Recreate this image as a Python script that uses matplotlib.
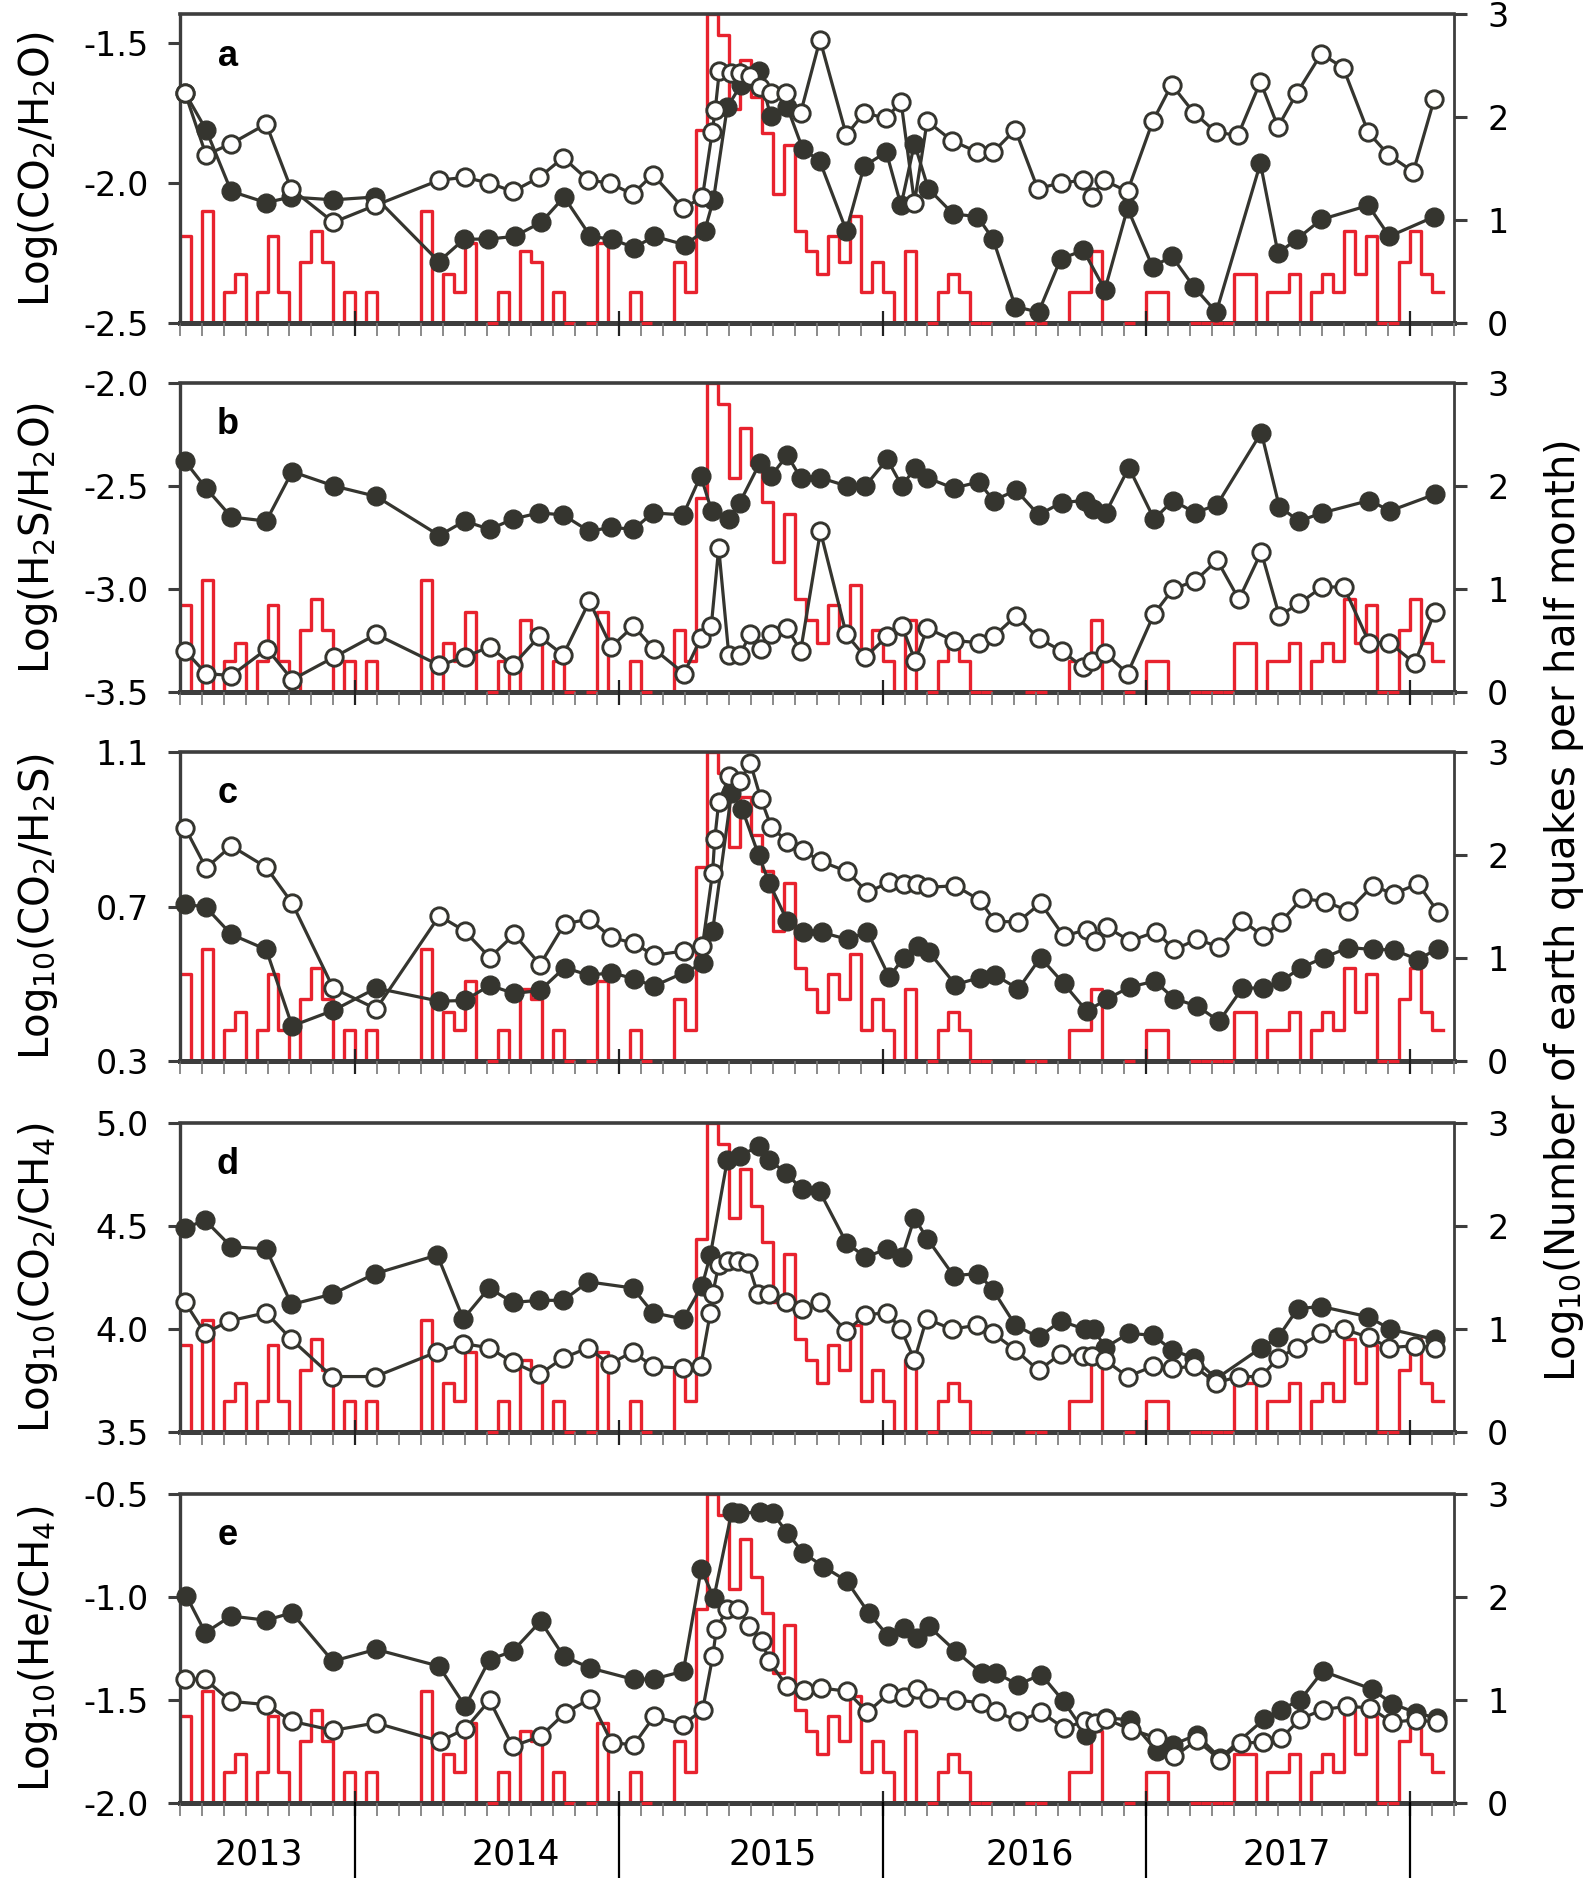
import numpy as np
import matplotlib
matplotlib.use('Agg')
import matplotlib.pyplot as plt
from matplotlib.ticker import FixedLocator, MultipleLocator

nan = np.nan

# Time is in months counted from 1 Jan 2013 (12 = Jan 2014, 24 = Jan 2015 ...)
# Earthquake counts: log10 of number per half month, bins start 1 May 2013
quake_start = 4.0
quake_log = [0.85, nan, 1.09, nan, 0.30, 0.48, nan, 0.30, 0.85, 0.30,
             nan, 0.60, 0.90, 0.60, nan, 0.30, nan, 0.30, nan, nan,
             nan, nan, 1.09, nan, 0.48, 0.30, 0.78, nan, 0.0, 0.30,
             nan, 0.70, 0.60, nan, 0.30, 0.0, nan, 0.0, 0.78, nan,
             nan, 0.30, 0.0, nan, nan, 0.60, 0.30, 1.88, 3.0, 2.80,
             2.08, 2.56, 2.20, 1.85, 1.26, 1.73, 0.90, 0.70, 0.48, 0.85,
             0.60, 1.04, 0.30, 0.60, 0.30, nan, 0.70, nan, 0.0, 0.30,
             0.48, 0.30, 0.0, 0.0, nan, nan, nan, 0.0, 0.0, nan,
             nan, 0.30, 0.30, 0.70, nan, nan, 0.0, nan, 0.30, 0.30,
             nan, nan, 0.0, 0.0, 0.0, 0.0, 0.48, 0.48, nan, 0.30,
             0.30, 0.48, nan, 0.30, 0.48, 0.30, 0.90, 0.48, 0.85, 0.0,
             0.0, 0.60, 0.90, 0.48, 0.30]

# panel a: Log(CO2/H2O)
a_fill_t = [4.25, 5.2, 6.35, 7.94, 9.06, 10.99, 12.9, 15.8, 16.95, 18.06, 19.25, 20.46, 21.5,
            22.7, 23.66, 24.7, 25.6, 27.0, 27.9, 28.3, 28.93, 29.56, 30.36, 30.9, 31.66, 32.37,
            33.13, 34.35, 35.16, 36.17, 36.84, 37.45, 38.08, 39.21, 40.32, 41.03, 42.04, 43.1,
            44.11, 45.14, 46.12, 47.15, 48.3, 49.16, 50.17, 51.19, 53.2, 54.0, 54.86, 55.97,
            58.11, 59.07, 61.12]
a_fill_v = [-1.68, -1.81, -2.03, -2.07, -2.05, -2.06, -2.05, -2.28, -2.20, -2.20, -2.19, -2.14,
            -2.05, -2.19, -2.20, -2.23, -2.19, -2.22, -2.17, -2.06, -1.73, -1.65, -1.60, -1.76,
            -1.73, -1.88, -1.92, -2.17, -1.94, -1.89, -2.08, -1.86, -2.02, -2.11, -2.12, -2.20,
            -2.44, -2.46, -2.27, -2.24, -2.38, -2.09, -2.30, -2.26, -2.37, -2.46, -1.93, -2.25,
            -2.20, -2.13, -2.08, -2.19, -2.12]
a_open_t = [4.25, 5.2, 6.35, 7.94, 9.07, 11.0, 12.9, 15.82, 16.97, 18.08, 19.17, 20.37, 21.46,
            22.6, 23.57, 24.62, 25.54, 26.93, 27.8, 28.24, 28.38, 28.57, 29.1, 29.5, 29.97, 30.4,
            30.9, 31.6, 32.27, 33.15, 34.35, 35.16, 36.17, 36.84, 37.45, 38.03, 39.17, 40.32,
            41.03, 42.04, 43.06, 44.11, 45.14, 45.53, 46.06, 47.15, 48.3, 49.16, 50.17, 51.19,
            52.18, 53.2, 54.0, 54.86, 55.97, 56.97, 58.11, 59.03, 60.16, 61.12]
a_open_v = [-1.68, -1.90, -1.86, -1.79, -2.02, -2.14, -2.08, -1.99, -1.98, -2.00, -2.03, -1.98,
            -1.91, -1.99, -2.00, -2.04, -1.97, -2.09, -2.05, -1.82, -1.74, -1.60, -1.61, -1.61,
            -1.62, -1.66, -1.68, -1.68, -1.75, -1.49, -1.83, -1.75, -1.77, -1.71, -2.07, -1.78,
            -1.85, -1.89, -1.89, -1.81, -2.02, -2.00, -1.99, -2.05, -1.99, -2.03, -1.78, -1.65,
            -1.75, -1.82, -1.83, -1.64, -1.80, -1.68, -1.54, -1.59, -1.82, -1.90, -1.96, -1.70]

# panel b: Log(H2S/H2O)
b_fill_t = [4.25, 5.2, 6.35, 7.94, 9.12, 11.04, 12.95, 15.82, 16.97, 18.12, 19.17, 20.37, 21.46,
            22.65, 23.63, 24.66, 25.54, 26.92, 27.72, 28.22, 29.02, 29.5, 30.4, 30.93, 31.66,
            32.27, 33.17, 34.39, 35.21, 36.21, 36.88, 37.49, 38.03, 39.23, 40.38, 41.05, 42.08,
            43.1, 44.15, 45.2, 45.58, 46.16, 47.21, 48.36, 49.22, 50.23, 51.23, 53.24, 54.06,
            54.96, 56.01, 58.15, 59.11, 61.14]
b_fill_v = [-2.38, -2.51, -2.65, -2.67, -2.43, -2.50, -2.55, -2.74, -2.67, -2.71, -2.66, -2.63,
            -2.64, -2.72, -2.70, -2.71, -2.63, -2.64, -2.45, -2.62, -2.66, -2.58, -2.39, -2.45,
            -2.35, -2.46, -2.46, -2.50, -2.50, -2.37, -2.50, -2.41, -2.46, -2.51, -2.48, -2.57,
            -2.52, -2.64, -2.58, -2.57, -2.61, -2.63, -2.41, -2.66, -2.57, -2.63, -2.59, -2.24,
            -2.60, -2.67, -2.63, -2.57, -2.62, -2.54]
b_open_t = [4.25, 5.2, 6.35, 7.98, 9.12, 11.04, 12.95, 15.82, 16.97, 18.12, 19.17, 20.37, 21.46,
            22.65, 23.65, 24.66, 25.58, 26.96, 27.72, 28.2, 28.54, 29.0, 29.5, 29.97, 30.45,
            30.9, 31.66, 32.27, 33.17, 34.35, 35.21, 36.21, 36.88, 37.49, 38.03, 39.23, 40.38,
            41.05, 42.08, 43.1, 44.15, 45.14, 45.53, 46.12, 47.15, 48.36, 49.22, 50.23, 51.23,
            52.22, 53.24, 54.06, 54.96, 56.01, 57.0, 58.15, 59.07, 60.22, 61.14]
b_open_v = [-3.30, -3.41, -3.42, -3.29, -3.44, -3.33, -3.22, -3.37, -3.33, -3.28, -3.37, -3.23,
            -3.32, -3.06, -3.28, -3.18, -3.29, -3.41, -3.24, -3.18, -2.80, -3.32, -3.32, -3.22,
            -3.29, -3.22, -3.19, -3.30, -2.72, -3.22, -3.33, -3.23, -3.18, -3.35, -3.19, -3.25,
            -3.26, -3.23, -3.13, -3.24, -3.30, -3.38, -3.35, -3.31, -3.41, -3.12, -3.00, -2.96,
            -2.86, -3.05, -2.82, -3.13, -3.07, -2.99, -2.99, -3.26, -3.26, -3.36, -3.11]

# panel c: Log10(CO2/H2S)
c_fill_t = [4.25, 5.2, 6.35, 7.94, 9.12, 10.99, 12.95, 15.82, 16.97, 18.12, 19.23, 20.41, 21.52,
            22.65, 23.65, 24.7, 25.58, 26.96, 27.84, 28.26, 29.12, 29.6, 30.36, 30.84, 31.66,
            32.37, 33.23, 34.43, 35.31, 36.3, 36.97, 37.6, 38.12, 39.31, 40.42, 41.13, 42.18,
            43.19, 44.24, 45.3, 46.22, 47.27, 48.4, 49.28, 50.31, 51.32, 52.38, 53.33, 54.14,
            55.05, 56.1, 57.2, 58.31, 59.26, 60.37, 61.27]
c_fill_v = [0.707, 0.698, 0.628, 0.589, 0.391, 0.431, 0.489, 0.455, 0.457, 0.496, 0.475, 0.483,
            0.542, 0.522, 0.529, 0.513, 0.494, 0.529, 0.553, 0.637, 0.993, 0.954, 0.833, 0.761,
            0.663, 0.635, 0.633, 0.615, 0.635, 0.518, 0.568, 0.598, 0.582, 0.498, 0.516, 0.522,
            0.487, 0.568, 0.501, 0.429, 0.461, 0.492, 0.507, 0.461, 0.443, 0.403, 0.489, 0.489,
            0.507, 0.542, 0.568, 0.594, 0.589, 0.588, 0.563, 0.591]
c_open_t = [4.25, 5.2, 6.35, 7.94, 9.12, 10.99, 12.95, 15.82, 16.97, 18.12, 19.23, 20.41, 21.52,
            22.65, 23.65, 24.7, 25.58, 26.96, 27.8, 28.26, 28.36, 28.54, 29.02, 29.5, 29.98,
            30.46, 30.93, 31.66, 32.37, 33.19, 34.39, 35.31, 36.3, 36.97, 37.55, 38.08, 39.31,
            40.42, 41.13, 42.18, 43.19, 44.24, 45.3, 45.68, 46.22, 47.27, 48.45, 49.28, 50.31,
            51.32, 52.38, 53.33, 54.14, 55.09, 56.16, 57.2, 58.31, 59.26, 60.37, 61.27]
c_open_v = [0.904, 0.800, 0.857, 0.802, 0.709, 0.489, 0.435, 0.676, 0.637, 0.568, 0.628, 0.550,
            0.655, 0.668, 0.620, 0.605, 0.574, 0.585, 0.598, 0.788, 0.876, 0.970, 1.037, 1.024,
            1.072, 0.979, 0.907, 0.868, 0.846, 0.817, 0.791, 0.737, 0.763, 0.759, 0.759, 0.750,
            0.754, 0.717, 0.661, 0.661, 0.709, 0.624, 0.640, 0.611, 0.646, 0.611, 0.635, 0.589,
            0.615, 0.596, 0.663, 0.624, 0.661, 0.721, 0.713, 0.689, 0.754, 0.733, 0.759, 0.687]

# panel d: Log10(CO2/CH4)
d_fill_t = [4.25, 5.15, 6.35, 7.94, 9.09, 10.94, 12.91, 15.73, 16.91, 18.08, 19.17, 20.37, 21.46,
            22.6, 24.62, 25.54, 26.92, 27.78, 28.16, 28.93, 29.5, 30.36, 30.84, 31.6, 32.31,
            33.13, 34.35, 35.21, 36.21, 36.88, 37.45, 38.03, 39.23, 40.36, 41.03, 42.04, 43.1,
            44.11, 45.2, 45.64, 46.12, 47.21, 48.32, 49.16, 50.17, 51.19, 53.24, 54.0, 54.9,
            55.97, 58.11, 59.11, 61.14]
d_fill_v = [4.49, 4.53, 4.40, 4.39, 4.12, 4.17, 4.27, 4.36, 4.05, 4.20, 4.13, 4.14, 4.14, 4.23,
            4.20, 4.08, 4.05, 4.21, 4.36, 4.82, 4.84, 4.89, 4.82, 4.76, 4.68, 4.67, 4.42, 4.35,
            4.39, 4.35, 4.54, 4.44, 4.26, 4.27, 4.19, 4.02, 3.96, 4.04, 4.00, 4.00, 3.91, 3.98,
            3.97, 3.90, 3.86, 3.76, 3.91, 3.96, 4.10, 4.11, 4.06, 4.00, 3.95]
d_open_t = [4.25, 5.15, 6.26, 7.94, 9.09, 10.94, 12.91, 15.73, 16.91, 18.08, 19.17, 20.37, 21.46,
            22.6, 23.57, 24.62, 25.54, 26.92, 27.72, 28.16, 28.26, 28.54, 28.98, 29.44, 29.88,
            30.32, 30.84, 31.6, 32.31, 33.13, 34.35, 35.21, 36.21, 36.84, 37.45, 38.0, 39.17,
            40.32, 41.03, 42.04, 43.1, 44.11, 45.14, 45.53, 46.12, 47.15, 48.32, 49.16, 50.17,
            51.19, 52.22, 53.24, 54.0, 54.86, 55.97, 57.0, 58.15, 59.07, 60.22, 61.14]
d_open_v = [4.13, 3.98, 4.04, 4.08, 3.95, 3.77, 3.77, 3.89, 3.93, 3.91, 3.84, 3.78, 3.86, 3.91,
            3.83, 3.89, 3.82, 3.81, 3.82, 4.08, 4.17, 4.31, 4.33, 4.33, 4.32, 4.17, 4.17, 4.13,
            4.10, 4.13, 3.99, 4.07, 4.08, 4.00, 3.85, 4.05, 4.00, 4.02, 3.98, 3.90, 3.80, 3.88,
            3.87, 3.87, 3.85, 3.77, 3.82, 3.81, 3.82, 3.74, 3.77, 3.77, 3.86, 3.91, 3.98, 4.00,
            3.96, 3.91, 3.92, 3.91]

# panel e: Log10(He/CH4)
e_fill_t = [4.31, 5.17, 6.33, 7.95, 9.11, 10.97, 12.94, 15.8, 17.0, 18.11, 19.16, 20.43, 21.48,
            22.68, 24.68, 25.6, 26.93, 27.74, 28.32, 29.13, 29.48, 30.41, 30.99, 31.66, 32.37,
            33.31, 34.37, 35.36, 36.26, 36.97, 37.56, 38.1, 39.33, 40.51, 41.17, 42.16, 43.22,
            44.24, 45.28, 46.17, 47.26, 48.49, 49.24, 50.3, 51.36, 53.37, 54.15, 55.02, 56.04,
            58.26, 59.2, 60.29, 61.24]
e_fill_v = [-0.995, -1.173, -1.092, -1.112, -1.076, -1.311, -1.254, -1.335, -1.53, -1.303,
            -1.263, -1.117, -1.287, -1.344, -1.40, -1.397, -1.36, -0.865, -1.003, -0.587, -0.593,
            -0.587, -0.593, -0.687, -0.784, -0.852, -0.922, -1.076, -1.19, -1.149, -1.198,
            -1.141, -1.263, -1.368, -1.368, -1.425, -1.376, -1.506, -1.668, -1.587, -1.595,
            -1.749, -1.716, -1.668, -1.781, -1.592, -1.546, -1.498, -1.36, -1.446, -1.517,
            -1.562, -1.587]
e_open_t = [4.25, 5.17, 6.33, 7.95, 9.11, 10.97, 12.94, 15.84, 17.0, 18.11, 19.16, 20.43, 21.55,
            22.68, 23.68, 24.68, 25.6, 26.93, 27.81, 28.27, 28.43, 28.9, 29.43, 29.94, 30.52,
            30.82, 31.66, 32.4, 33.2, 34.37, 35.31, 36.31, 36.97, 37.56, 38.1, 39.33, 40.46,
            41.17, 42.16, 43.22, 44.24, 45.23, 45.66, 46.17, 47.3, 48.49, 49.28, 50.3, 51.36,
            52.3, 53.3, 54.15, 55.02, 56.04, 57.15, 58.2, 59.2, 60.29, 61.24]
e_open_v = [-1.397, -1.40, -1.506, -1.522, -1.603, -1.647, -1.611, -1.70, -1.64, -1.501, -1.724,
            -1.676, -1.562, -1.494, -1.708, -1.716, -1.579, -1.619, -1.546, -1.287, -1.157,
            -1.06, -1.057, -1.141, -1.214, -1.311, -1.433, -1.452, -1.441, -1.457, -1.559,
            -1.465, -1.485, -1.446, -1.489, -1.498, -1.514, -1.554, -1.603, -1.559, -1.635,
            -1.603, -1.611, -1.592, -1.643, -1.684, -1.773, -1.695, -1.789, -1.708, -1.705,
            -1.684, -1.592, -1.546, -1.53, -1.538, -1.608, -1.595, -1.608]

year_labels = ['2013', '2014', '2015', '2016', '2017']
year_label_pos = [7.6, 19.3, 31.0, 42.7, 54.4]
year_starts = [12, 24, 36, 48, 60]

DARK = '#35352f'
RED = '#e8222e'
SPINE = '#3d3d3d'


def draw_panel(ax, letter, ylabel, ylim, yticks, fill_t, fill_v, open_t, open_v):
    ax2 = ax.twinx()
    ax.set_zorder(ax2.get_zorder() + 1)
    ax.patch.set_visible(False)

    # earthquake histogram (right axis)
    q = np.array(quake_log, dtype=float)
    edges = quake_start + np.arange(len(q) + 1) / 2.0
    q_ext = np.append(q, q[-1])
    ax2.step(edges, np.nan_to_num(q_ext), where='post', color=RED, lw=2.4, zorder=1)
    for k in np.where(q == 0)[0]:
        ax2.plot([edges[k], edges[k + 1]], [0, 0], color=RED, lw=2.4, zorder=3,
                 clip_on=False, solid_capstyle='butt')
    ax2.set_ylim(0, 3)
    ax2.yaxis.set_major_locator(FixedLocator([0, 1, 2, 3]))
    ax2.set_yticklabels(['0', '1', '2', '3'])
    ax2.tick_params(axis='y', direction='out', length=9, width=2.2, color=SPINE,
                    labelsize=24, pad=15)

    # gas ratio series (left axis)
    ax.plot(fill_t, fill_v, '-o', color=DARK, ms=13.5, lw=2.3, clip_on=False, zorder=3)
    ax.plot(open_t, open_v, '-o', color=DARK, mfc='white', mec=DARK, mew=2.1, ms=12.5,
            lw=2.3, clip_on=False, zorder=4)
    ax.set_xlim(4, 62)
    ax.set_ylim(*ylim)
    ax.yaxis.set_major_locator(FixedLocator(yticks))
    ax.set_yticklabels([f'{v:.1f}' for v in yticks])
    ax.tick_params(axis='y', direction='out', length=9, width=2.2, color=SPINE,
                   labelsize=24, pad=13)

    ax.xaxis.set_major_locator(FixedLocator(year_starts))
    ax.xaxis.set_minor_locator(MultipleLocator(1))
    ax.tick_params(axis='x', which='major', direction='inout', length=18, width=1.6,
                   color='#222222', labelbottom=False)
    ax.tick_params(axis='x', which='minor', direction='out', length=9.5, width=1.2,
                   color='#777777')

    for s in ax.spines.values():
        s.set_visible(False)
    widths = {'bottom': 3.6, 'top': 2.6, 'left': 2.4, 'right': 2.0}
    for name, s in ax2.spines.items():
        s.set_color(SPINE)
        s.set_linewidth(widths[name])

    ax.set_ylabel(ylabel, fontsize=29)
    ax.yaxis.set_label_coords(-0.094, 0.5)
    ax.text(0.0376, 0.865, letter, transform=ax.transAxes, fontsize=26,
            fontweight='bold', family='Liberation Sans', ha='center', va='center')
    return ax2


def main():
    plt.rcParams['font.family'] = ['DejaVu Sans']
    fig = plt.figure(figsize=(15.94, 18.78), dpi=100)

    panels = [
        ('a', 'Log(CO$_2$/H$_2$O)', (-2.5, -1.40), [-2.5, -2.0, -1.5],
         a_fill_t, a_fill_v, a_open_t, a_open_v),
        ('b', 'Log(H$_2$S/H$_2$O)', (-3.5, -2.0), [-3.5, -3.0, -2.5, -2.0],
         b_fill_t, b_fill_v, b_open_t, b_open_v),
        ('c', 'Log$_{10}$(CO$_2$/H$_2$S)', (0.3, 1.1), [0.3, 0.7, 1.1],
         c_fill_t, c_fill_v, c_open_t, c_open_v),
        ('d', 'Log$_{10}$(CO$_2$/CH$_4$)', (3.5, 5.0), [3.5, 4.0, 4.5, 5.0],
         d_fill_t, d_fill_v, d_open_t, d_open_v),
        ('e', 'Log$_{10}$(He/CH$_4$)', (-2.0, -0.5), [-2.0, -1.5, -1.0, -0.5],
         e_fill_t, e_fill_v, e_open_t, e_open_v),
    ]
    bottoms = [0.8278, 0.6315, 0.4350, 0.2374, 0.0399]

    ax = None
    for bottom, p in zip(bottoms, panels):
        ax = fig.add_axes([0.1127, bottom, 0.7993, 0.1645])
        draw_panel(ax, *p)

    # year labels and dividers under the last panel
    xt = ax.get_xaxis_transform()
    for pos, lab in zip(year_label_pos, year_labels):
        ax.text(pos, -0.165, lab, transform=xt, fontsize=25, ha='center', va='center')
    for yr in year_starts:
        ax.plot([yr, yr], [0, -0.245], transform=xt, color='black', lw=1.6, clip_on=False)

    fig.text(0.981, 0.515, 'Log$_{10}$(Number of earth quakes per half month)',
             rotation=90, fontsize=29, ha='center', va='center')

    fig.savefig('out.png', dpi=100)


if __name__ == "__main__":
    main()
